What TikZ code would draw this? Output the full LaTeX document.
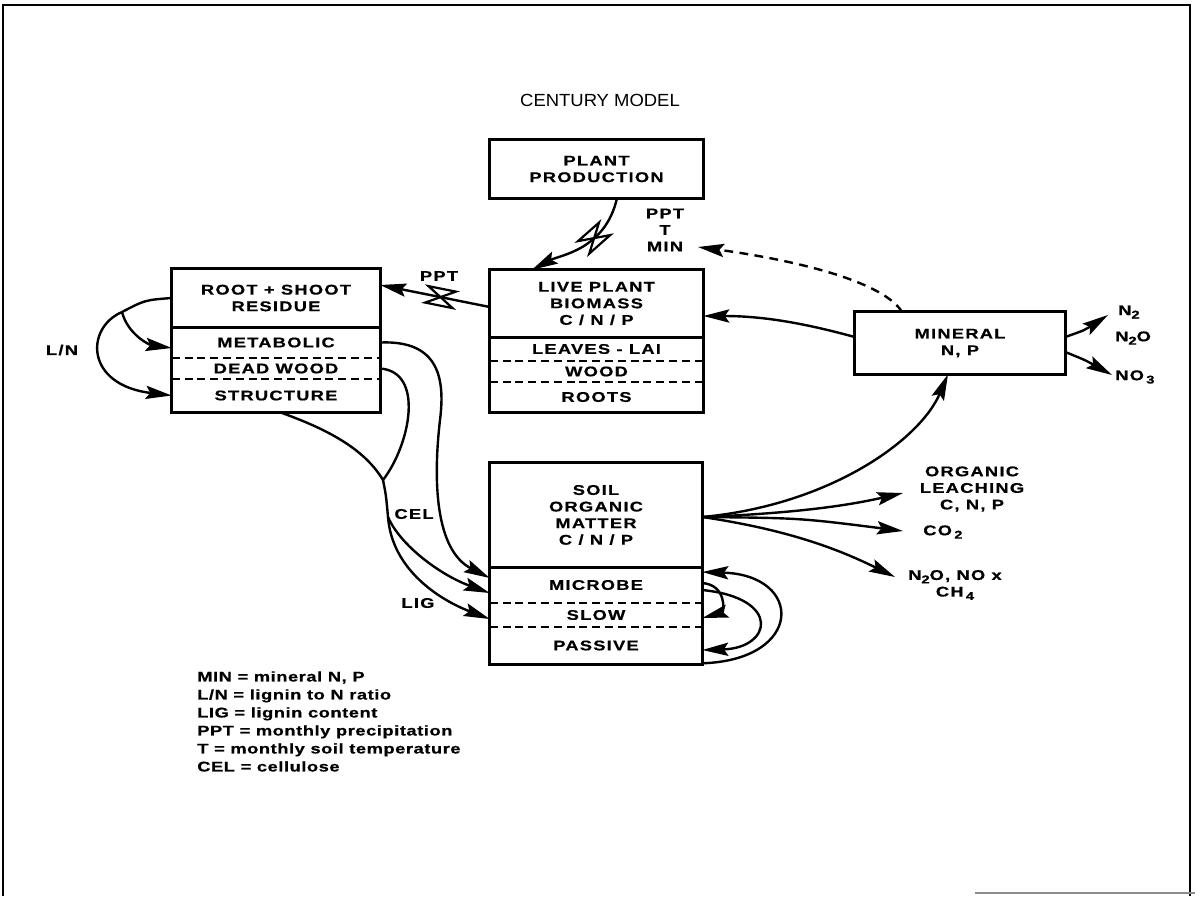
\documentclass[tikz,border=0pt]{standalone}
\usepackage{fontspec}
\usetikzlibrary{calc,arrows.meta,decorations.markings}
\newfontfamily\boxfont{Liberation Sans Bold}[FakeStretch=1.3,LetterSpace=9,FakeBold=0.6]
\newfontfamily\keyfont{Liberation Sans Bold}[FakeStretch=1.3,LetterSpace=4,FakeBold=0.6]
\newfontfamily\titlefont{Liberation Sans}[FakeStretch=1.05]
\def\px{0.25mm}
\def\low#1{\raisebox{-0.45ex}{\fontsize{8}{8}\selectfont #1}}
\tikzset{
	cell/.style n args={2}{minimum width=#1*\px, minimum height=#2*\px, inner sep=0pt, align=center, font=\boxfont\fontsize{10}{11.8}\selectfont},
	tag/.style={inner sep=0pt, align=center, font=\boxfont\fontsize{10}{11.8}\selectfont},
	box/.style={line width=0.75mm},
	sep/.style={line width=0.5mm, dash pattern=on 2mm off 1.2mm},
	link/.style={line width=0.6mm},
	flow/.style={line width=0.6mm, -{Stealth[length=6.5mm,width=3.3mm,inset=1.1mm]}},
	valve/.style={postaction=decorate, decoration={markings, mark=at position #1 with {\draw[line width=0.55mm,solid,arrows=-] (-3.5mm,2.1mm) -- (3.5mm,2.1mm) -- (-3.5mm,-2.1mm) -- (3.5mm,-2.1mm) -- cycle;}}}
}

\begin{document}
\begin{tikzpicture}[x=\px,y=-\px]
		%%%%% START %%%%%
		\useasboundingbox (0,0) rectangle (1195,896);
		
		% page frame
		\draw[line width=0.7mm] (3,896) -- (3,5) -- (1190,5) -- (1190,896);
		\draw[line width=0.4mm, black!45] (975,893) -- (1195,893);
		
		\node[tag, font=\titlefont\fontsize{12.5}{14}\selectfont] (title) at (600,100) {CENTURY MODEL};
		
		% plant production
		\node[cell={213}{58}] (prod) at (596.5,169) {PLANT\\PRODUCTION};
		\draw[box] (prod.north west) rectangle (prod.south east);
		
		% live plant biomass
		\node[cell={213}{67}] (liveTop) at (596.5,303.5) {LIVE PLANT\\BIOMASS\\C / N / P};
		\node[cell={213}{24}] (leaves) at (596.5,349) {LEAVES - LAI};
		\node[cell={213}{21}] (wood) at (596.5,371.5) {WOOD};
		\node[cell={213}{30}] (roots) at (596.5,397) {ROOTS};
		\draw[box] (liveTop.north west) rectangle (roots.south east);
		\draw[box] (liveTop.south west) -- (liveTop.south east);
		\draw[sep] (leaves.south west) -- (leaves.south east);
		\draw[sep] (wood.south west) -- (wood.south east);
		
		% root + shoot residue
		\node[cell={208}{58}] (resTop) at (276,298) {ROOT + SHOOT\\RESIDUE};
		\node[cell={208}{31}] (metab) at (276,342.5) {METABOLIC};
		\node[cell={208}{21}] (dead) at (276,368.5) {DEAD WOOD};
		\node[cell={208}{33}] (struct) at (276,395.5) {STRUCTURE};
		\draw[box] (resTop.north west) rectangle (struct.south east);
		\draw[box] (resTop.south west) -- (resTop.south east);
		\draw[sep] (metab.south west) -- (metab.south east);
		\draw[sep] (dead.south west) -- (dead.south east);
		
		% mineral pool
		\node[cell={210}{62}] (mineral) at (960,343) {MINERAL\\N, P};
		\draw[box] (mineral.north west) rectangle (mineral.south east);
		
		% soil organic matter
		\node[cell={212}{104}] (somTop) at (596,515) {SOIL\\ORGANIC\\MATTER\\C / N / P};
		\node[cell={212}{36}] (microbe) at (596,585) {MICROBE};
		\node[cell={212}{24}] (slow) at (596,615) {SLOW};
		\node[cell={212}{37}] (passive) at (596,645.5) {PASSIVE};
		\draw[box] (somTop.north west) rectangle (passive.south east);
		\draw[box] (somTop.south west) -- (somTop.south east);
		\draw[sep] (microbe.south west) -- (microbe.south east);
		\draw[sep] (slow.south west) -- (slow.south east);
		
		% labels
		\node[tag] (pptA) at (439,276) {PPT};
		\node[tag] (drivers) at (665,230) {PPT\\T\\MIN};
		\node[tag] (ln) at (62,350) {L/N};
		\node[tag] (cel) at (414,514) {CEL};
		\node[tag] (lig) at (418,603) {LIG};
		\node[tag, anchor=west] (n2) at (1118,312) {N\low{2}};
		\node[tag, anchor=west] (n2o) at (1115,338) {N\low{2}O};
		\node[tag, anchor=west] (no3) at (1115,377) {NO\,\low{3}};
		\node[tag] (leach) at (972,489) {ORGANIC\\LEACHING\\C, N, P};
		\node[tag, anchor=west] (co2) at (923,532) {CO\,\low{2}};
		\node[tag] (gas) at (955,585) {N\low{2}O, NO x\\CH\,\low{4}};
		
		\node[tag, anchor=north west, align=left, font=\keyfont\fontsize{10}{12.8}\selectfont] (key) at (197,671) {MIN = mineral N, P\\L/N = lignin to N ratio\\LIG = lignin content\\PPT = monthly precipitation\\T = monthly soil temperature\\CEL = cellulose};
		
		\coordinate (minTip) at (698,247);
		\coordinate (n2Tip) at (1108,315);
		\coordinate (no3Tip) at (1112,375);
		\coordinate (leachTip) at (903,493);
		\coordinate (co2Tip) at (903,531);
		\coordinate (gasTip) at (895,577);
		\coordinate (lnSplit) at (122,312);
		\coordinate (merge) at (383,480);
		\coordinate (split) at (388,517);
		
		% production, litterfall, uptake
		\draw[flow, valve=0.4] ([xshift=20.5*\px]prod.south) .. controls (605,250) and (560,255) .. ([xshift=-64.5*\px]liveTop.north);
		\draw[flow, valve=0.45] ([yshift=-3.5*\px]liveTop.west) -- ([yshift=13*\px]resTop.east);
		\draw[flow] ([yshift=6*\px]mineral.west) .. controls (800,322) and (760,316) .. ([yshift=-12.5*\px]liveTop.east);
		\draw[flow, dash pattern=on 2.2mm off 1.6mm] ([xshift=-58*\px]mineral.north) .. controls (880,278) and (780,258) .. (minTip);
		
		% mineral losses
		\draw[flow] ([yshift=6*\px]mineral.east) .. controls (1085,330) .. (n2Tip);
		\draw[flow] ([yshift=-9*\px]mineral.east) .. controls (1085,360) .. (no3Tip);
		
		% soil outflows
		\draw[flow] ([yshift=-2*\px]somTop.east) .. controls (830,505) and (920,440) .. ([xshift=-12*\px]mineral.south);
		\draw[flow] ([yshift=-2*\px]somTop.east) .. controls (800,513) and (850,505) .. (leachTip);
		\draw[flow] ([yshift=-2*\px]somTop.east) .. controls (800,518) .. (co2Tip);
		\draw[flow] ([yshift=-2*\px]somTop.east) .. controls (790,530) and (840,550) .. (gasTip);
		
		% residue split by L/N
		\draw[link] (resTop.west) .. controls (145,300) .. (lnSplit);
		\draw[flow] (lnSplit) .. controls (128,335) and (150,345) .. ([yshift=-5.5*\px]metab.west);
		\draw[flow] (lnSplit) .. controls (85,328) and (85,385) .. (struct.west);
		
		% litter into soil
		\draw[flow] (metab.east) .. controls (440,340) and (445,380) .. (440,420) .. controls (433,480) and (435,550) .. ([yshift=7*\px]microbe.west);
		\draw[link] (dead.east) .. controls (425,372) and (410,445) .. (merge);
		\draw[link] ([xshift=4*\px]struct.south) .. controls (330,430) and (365,450) .. (merge);
		\draw[link] (merge) .. controls (386,495) .. (split);
		\draw[flow] (split) .. controls (400,545) and (440,575) .. ([yshift=-8*\px]microbe.west);
		\draw[flow] (split) .. controls (392,570) and (440,600) .. ([yshift=-4*\px]slow.west);
		
		% soil pools
		\draw[flow] ([yshift=2*\px]microbe.east) .. controls (727,585) and (724,612) .. ([yshift=-3*\px]slow.east);
		\draw[flow] ([yshift=-5*\px]microbe.east) .. controls (782,598) and (772,648) .. ([yshift=-4.5*\px]passive.east);
		\draw[flow] ([yshift=1*\px]passive.south east) .. controls (804,660) and (804,575) .. ([yshift=13*\px]microbe.east);
		
		%%%%% END %%%%%
	\end{tikzpicture}
\end{document}
